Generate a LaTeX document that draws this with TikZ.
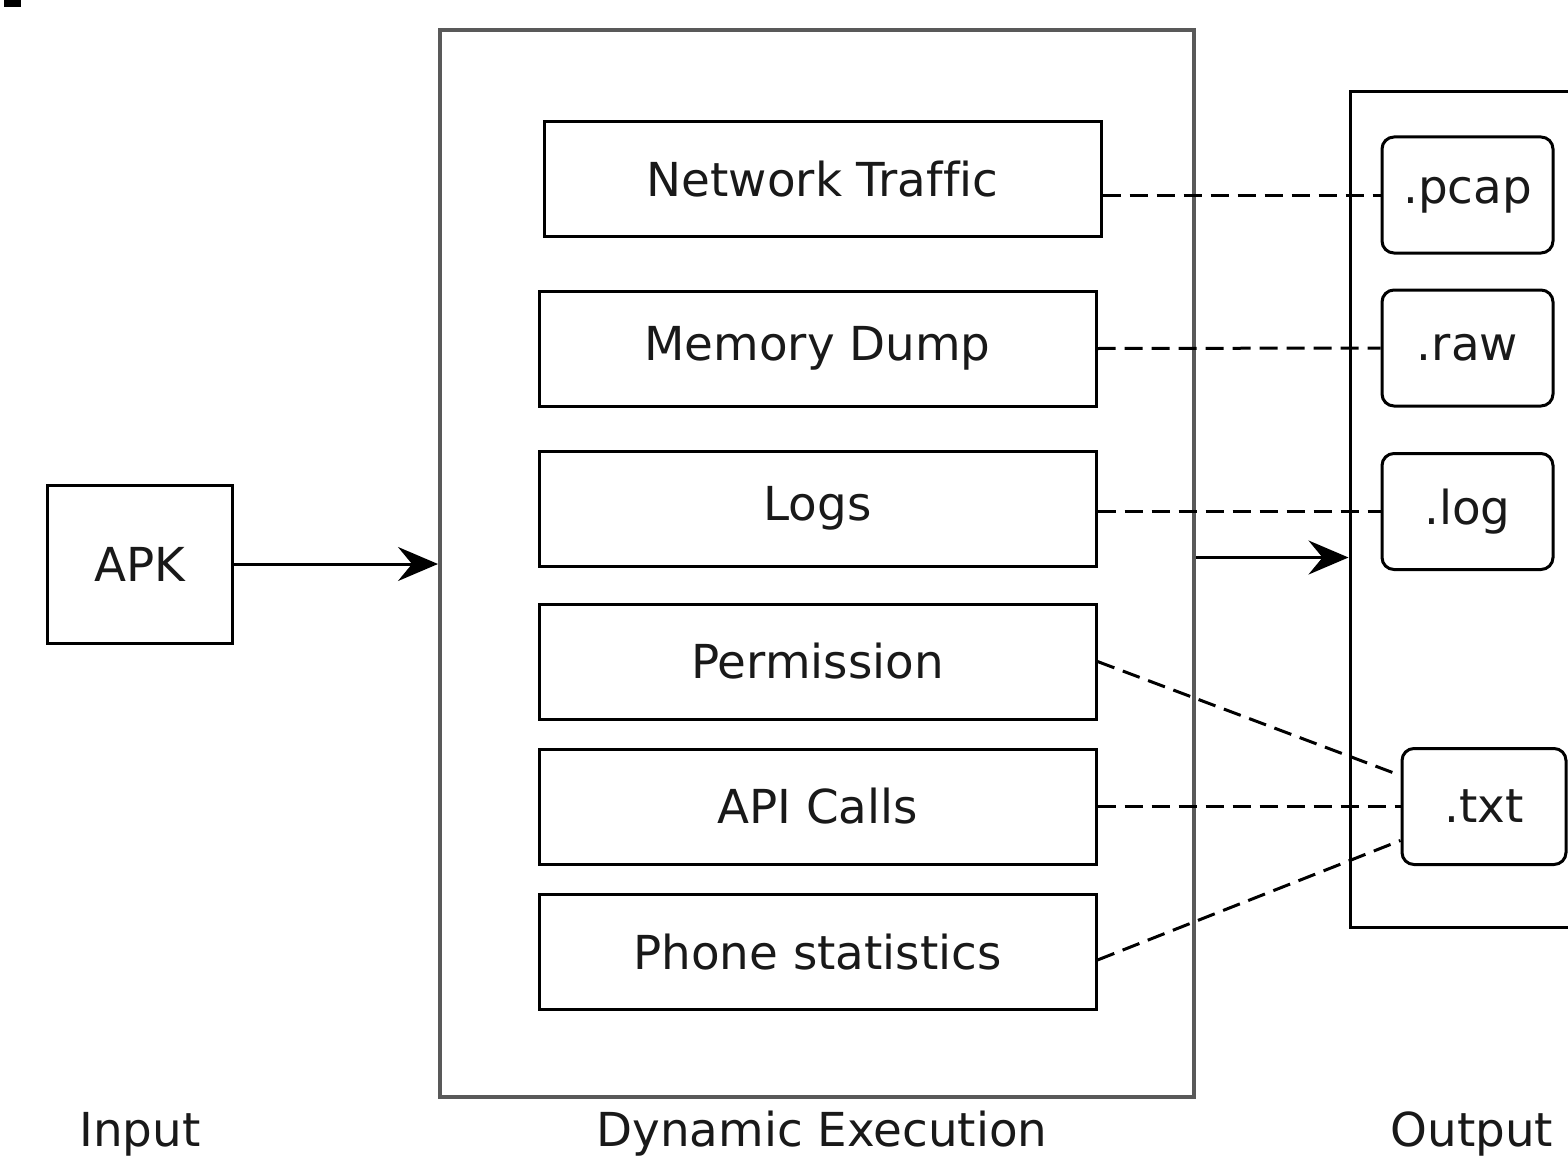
\documentclass[tikz,border=0pt]{standalone}
\usepackage{fontspec}
\setmainfont{DejaVu Sans}[Ligatures=NoCommon]
\usetikzlibrary{arrows.meta,positioning}

\begin{document}
\begin{tikzpicture}[x=0.5pt,y=-0.5pt,>={Stealth[length=20pt,width=17pt,inset=7pt]},
every node/.style={font=\fontsize{23.4}{28}\selectfont,text=black!90},
frame/.style={draw=black!65,line width=2pt,minimum width=377pt,minimum height=533.5pt},
outframe/.style={draw,line width=1.5pt,minimum width=120pt,minimum height=417.5pt},
stage/.style={draw,line width=1.5pt,minimum width=278.5pt,minimum height=57.5pt},
file/.style={draw,line width=1.5pt,rounded corners=6pt,minimum width=85.5pt,minimum height=58pt},
arrow/.style={->,line width=1.5pt},
link/.style={line width=1.5pt,dash pattern=on 9pt off 4.5pt}]
\useasboundingbox (0,0) rectangle (1568,1156);
\fill (4,0) rectangle (21,7);
% input
\node[draw,line width=1.5pt,minimum width=92.5pt,minimum height=79pt] (apk) at (139.5,564) {APK};
% dynamic execution
\node[frame] (dyn) at (817,563.5) {};
\node[stage] (nt) at (822.5,179) {Network Traffic};
\node[stage] (mem) at (817.5,348.5) {Memory Dump};
\node[stage] (logs) at (817.5,508.5) {Logs};
\node[stage] (perm) at (817.5,661.5) {Permission};
\node[stage] (api) at (817.5,806.5) {API Calls};
\node[stage] (phone) at (817.5,952) {Phone statistics};
% output
\node[outframe] (out) at (1470,509.5) {};
\node[file] (pcap) at (1467.5,195) {.pcap};
\node[file] (raw) at (1467.5,348) {.raw};
\node[file] (log) at (1467.5,511.5) {.log};
\node[file,minimum width=82pt] (txt) at (1484,806.5) {.txt};
\node (lin) at (140,1134) {Input};
\node (ldyn) at (822,1134) {Dynamic Execution};
\node (lout) at (1472,1134) {Output};
\draw[arrow] (apk.east) -- (apk.east -| dyn.west);
\coordinate (res) at ([yshift=3pt]dyn.east);
\draw[arrow] (res) -- (res -| out.west);
\draw[link] (pcap.west -| nt.east) -- (pcap.west);
\draw[link] (mem.east) -- (raw.west);
\draw[link] (log.west -| logs.east) -- (log.west);
\draw[link] (perm.east) -- ([yshift=15.5pt]txt.west);
\draw[link] (api.east) -- (txt.west);
\draw[link] ([yshift=-4pt]phone.east) -- ([yshift=-17pt]txt.west);
\end{tikzpicture}
\end{document}
